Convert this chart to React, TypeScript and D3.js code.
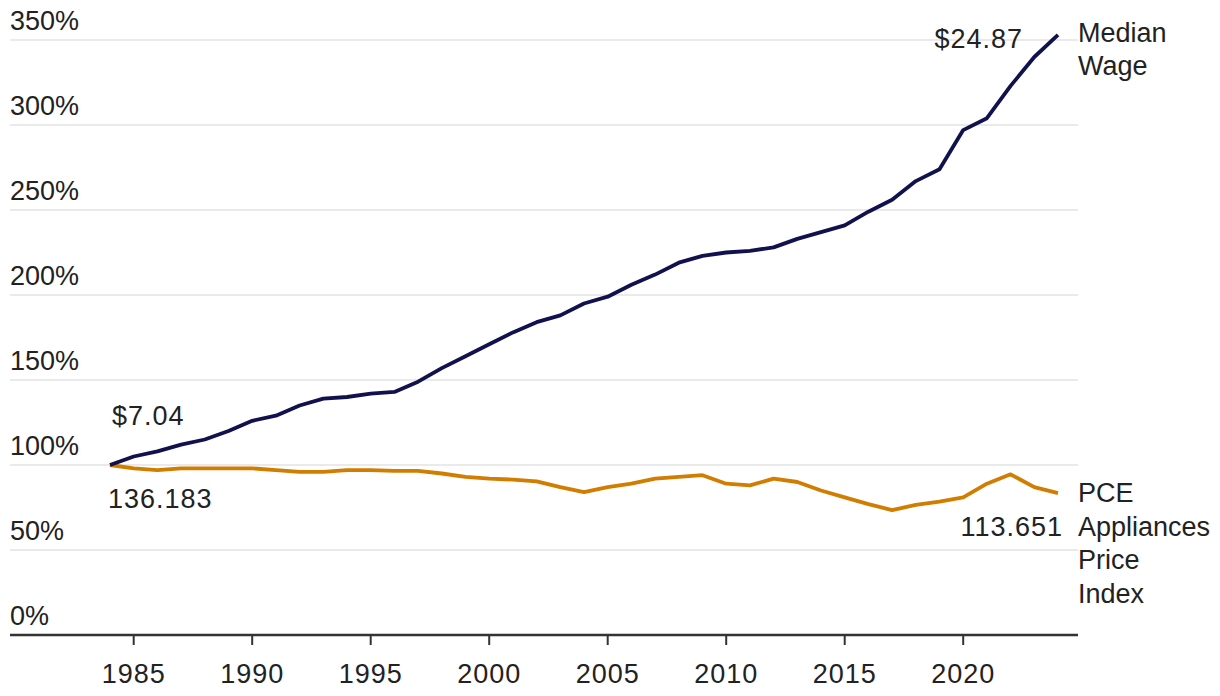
import React from 'react';
import * as d3 from 'd3';

const years = d3.range(1984, 2025);

// indexed to 1984 = 100%
const medianWage = [
  100, 105, 108, 112, 115, 120, 126, 129, 135, 139, 140, 142, 143, 149, 157, 164, 171, 178, 184, 188,
  195, 199, 206, 212, 219, 223, 225, 226, 228, 233, 237, 241, 249, 256, 267, 274, 297, 304, 323, 340, 353,
];
const pceAppliances = [
  100, 98, 97, 98, 98, 98, 98, 97, 96, 96, 97, 97, 96.6, 96.6, 95, 93, 92, 91.4, 90.4, 87,
  84, 87, 89, 92, 93, 94, 89, 88, 92, 90, 85, 81, 77, 73.5, 76.5, 78.5, 81, 89, 94.5, 87, 83.5,
];

const yTicks = [0, 50, 100, 150, 200, 250, 300, 350];
const xTicks = [1985, 1990, 1995, 2000, 2005, 2010, 2015, 2020];

const W = 1220;
const H = 696;
const FONT = '"Liberation Sans", Arial, sans-serif';
const NAVY = '#11114e';
const ORANGE = '#d17d00';
const TEXT = '#222';

export default function App() {
  const x = d3.scaleLinear().domain([1984, 2024]).range([110, 1058]);
  const y = d3.scaleLinear().domain([0, 350]).range([635, 40]);

  const line = d3
    .line<number>()
    .x((_, i) => x(years[i]))
    .y((d) => y(d));

  const first = years[0];
  const last = years[years.length - 1];

  return (
    <svg width={W} height={H} style={{ position: 'absolute', left: 0, top: 0 }} fontFamily={FONT}>
      {yTicks.map((t) => (
        <g key={t}>
          {t > 0 && (
            <line x1={10} x2={1078} y1={y(t)} y2={y(t)} stroke="#e3e3e3" strokeWidth={1.5} />
          )}
          <text x={10} y={y(t) - 10} fontSize={27} fill={TEXT}>
            {t}%
          </text>
        </g>
      ))}

      <line x1={10} x2={1078} y1={y(0)} y2={y(0)} stroke="#333" strokeWidth={2.5} />
      {xTicks.map((t) => (
        <g key={t}>
          <line x1={x(t)} x2={x(t)} y1={y(0)} y2={y(0) + 10} stroke="#333" strokeWidth={2} />
          <text x={x(t)} y={683} fontSize={27} fill={TEXT} textAnchor="middle" letterSpacing={1}>
            {t}
          </text>
        </g>
      ))}

      <path d={line(pceAppliances) ?? ''} fill="none" stroke={ORANGE} strokeWidth={3.8} strokeLinejoin="round" />
      <path d={line(medianWage) ?? ''} fill="none" stroke={NAVY} strokeWidth={3.8} strokeLinejoin="round" />

      <text x={x(first) + 2} y={y(medianWage[0]) - 40} fontSize={27} fill={TEXT} letterSpacing={1}>
        $7.04
      </text>
      <text x={x(first) - 2} y={y(pceAppliances[0]) + 43} fontSize={27} fill={TEXT} letterSpacing={1}>
        136.183
      </text>
      <text x={x(last) - 35} y={y(medianWage[medianWage.length - 1]) + 13} fontSize={27} fill={TEXT} textAnchor="end" letterSpacing={1}>
        $24.87
      </text>
      <text x={x(last) + 5} y={y(pceAppliances[pceAppliances.length - 1]) + 43} fontSize={27} fill={TEXT} textAnchor="end" letterSpacing={1}>
        113.651
      </text>

      <text x={1078} y={42} fontSize={27} fill={TEXT}>
        <tspan x={1078}>Median</tspan>
        <tspan x={1078} dy={33}>Wage</tspan>
      </text>
      <text x={1078} y={502} fontSize={27} fill={TEXT}>
        <tspan x={1078}>PCE</tspan>
        <tspan x={1078} dy={33.5}>Appliances</tspan>
        <tspan x={1078} dy={33.5}>Price</tspan>
        <tspan x={1078} dy={33.5}>Index</tspan>
      </text>
    </svg>
  );
}
